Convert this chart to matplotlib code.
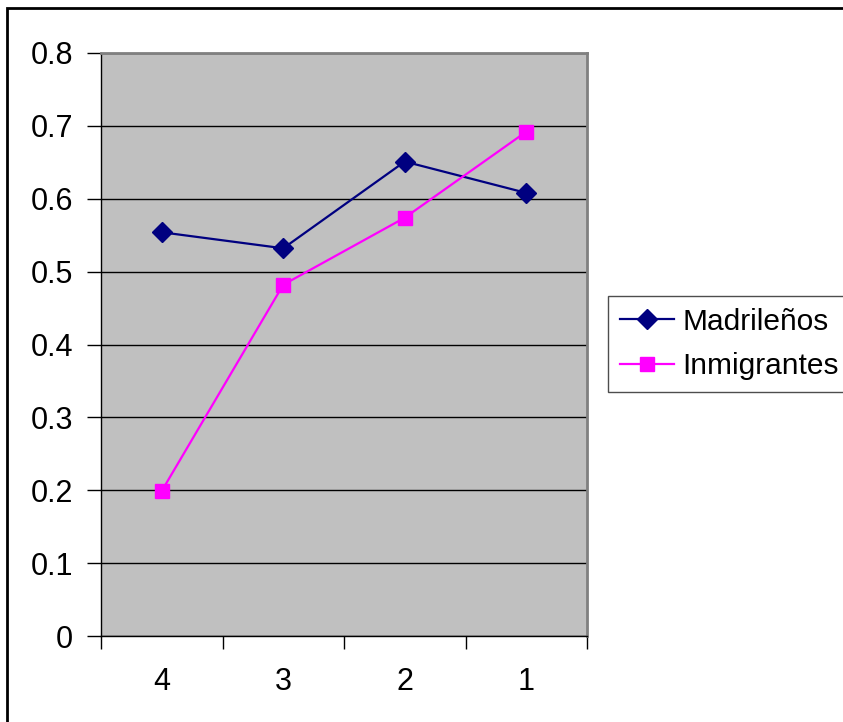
import matplotlib
matplotlib.use('Agg')
import matplotlib.pyplot as plt
from matplotlib.patches import Rectangle

categories = ['4', '3', '2', '1']
madrilenos = [0.554, 0.532, 0.651, 0.608]
inmigrantes = [0.199, 0.482, 0.574, 0.692]
y_ticks = [0, 0.1, 0.2, 0.3, 0.4, 0.5, 0.6, 0.7, 0.8]

plt.rcParams['font.family'] = ['Liberation Sans', 'DejaVu Sans']

W, H = 843, 722
fig = plt.figure(figsize=(W / 100, H / 100), dpi=100)
fig.patch.set_facecolor('white')

ax = fig.add_axes([101 / W, 1 - 636 / H, (587 - 101) / W, (636 - 53) / H])
ax.set_facecolor('#C0C0C0')

x = list(range(len(categories)))
ax.plot(x, madrilenos, color='#000080', lw=1.6, marker='D', ms=10,
        markerfacecolor='#000080', markeredgecolor='#000080', label='Madrileños',
        zorder=3)
ax.plot(x, inmigrantes, color='#FF00FF', lw=1.6, marker='s', ms=9.5,
        markerfacecolor='#FF00FF', markeredgecolor='#FF00FF', label='Inmigrantes',
        zorder=3)

ax.set_ylim(0, 0.8)
ax.set_yticks(y_ticks)
ax.set_yticklabels(['0' if v == 0 else f'{v:g}' for v in y_ticks])
ax.yaxis.grid(True, color='black', lw=1)
ax.set_axisbelow(True)

ax.set_xlim(-0.5, len(categories) - 0.5)
ax.set_xticks([i - 0.5 for i in range(len(categories) + 1)])
ax.set_xticklabels([])
ax.set_xticks(x, minor=True)
ax.set_xticklabels(categories, minor=True)

ax.tick_params(axis='y', direction='out', length=10, width=1, color='black',
               labelsize=22, pad=10)
ax.tick_params(axis='x', which='major', direction='out', length=9, width=1,
               color='black')
ax.tick_params(axis='x', which='minor', length=0, labelsize=22, pad=22)

for side in ('left', 'bottom'):
    ax.spines[side].set_color('black')
    ax.spines[side].set_linewidth(1)
for side in ('top', 'right'):
    ax.spines[side].set_color('#808080')
    ax.spines[side].set_linewidth(2)

leg = fig.legend(loc='upper left', bbox_to_anchor=(608 / W, 1 - 296 / H),
                 fontsize=21.5, frameon=True, fancybox=False, handlelength=1.8,
                 handletextpad=0.3, borderpad=0.4, labelspacing=0.55,
                 borderaxespad=0)
leg.get_frame().set_edgecolor('#202020')
leg.get_frame().set_linewidth(1)

# outer chart border
fig.patches.append(Rectangle((7 / W, -0.05), 1.2, 1 - 8 / H + 0.05,
                             transform=fig.transFigure, fill=False,
                             edgecolor='black', lw=2))

fig.savefig('out.png', dpi=100)
